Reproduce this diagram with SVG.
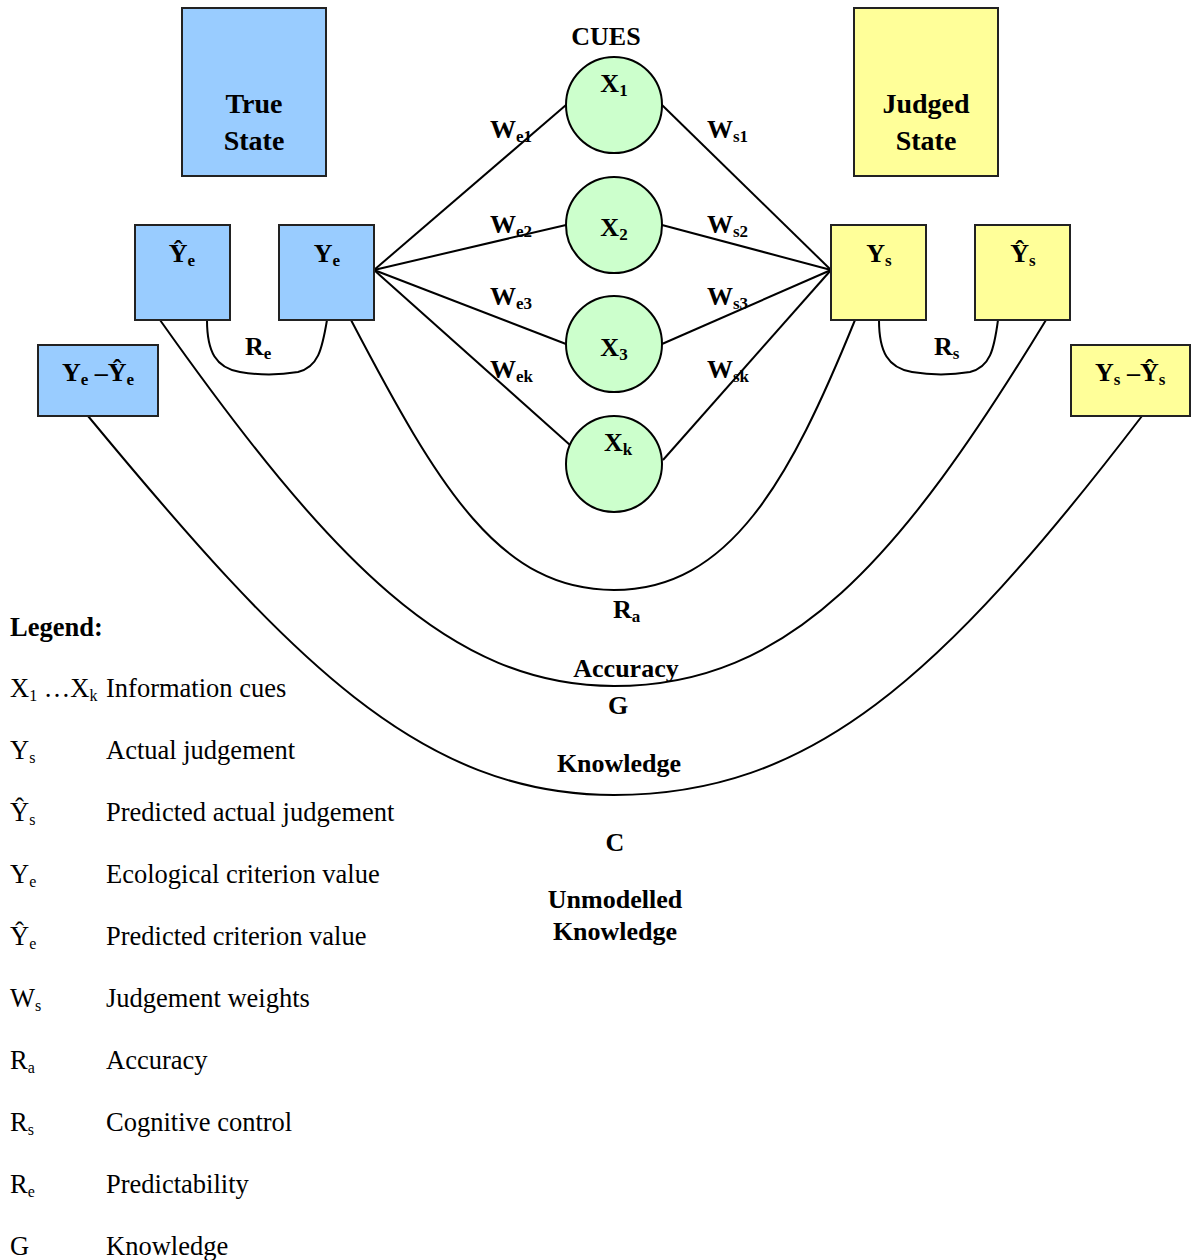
<svg xmlns="http://www.w3.org/2000/svg" width="1197" height="1260" viewBox="0 0 1197 1260">
  <style>
    text { font-family: "Liberation Serif", "Times New Roman", serif; fill: #000; }
    .b { font-weight: bold; font-size: 26px; }
    .big { font-weight: bold; font-size: 28px; }
    .lg { font-size: 26.5px; }
    .sub { font-size: 17px; }
    .lsub { font-size: 16px; }
    .blue { fill: #99CCFF; stroke: #222; stroke-width: 2; }
    .yel { fill: #FFFF99; stroke: #222; stroke-width: 2; }
    .cue { fill: #CCFFCC; stroke: #000; stroke-width: 2; }
    .ln { fill: none; stroke: #000; stroke-width: 2; }
  </style>

  <rect width="1197" height="1260" fill="#fff"/>

  <!-- connectors -->
  <g id="connectors">
    <!-- ecological weights: Ye to cues -->
    <line class="ln" x1="374" y1="270" x2="566" y2="105"/>
    <line class="ln" x1="374" y1="270" x2="566" y2="225"/>
    <line class="ln" x1="374" y1="270" x2="566" y2="344"/>
    <line class="ln" x1="374" y1="270" x2="570" y2="445"/>
    <!-- judgement weights: cues to Ys -->
    <line class="ln" x1="662" y1="105" x2="831" y2="270"/>
    <line class="ln" x1="662" y1="225" x2="831" y2="270"/>
    <line class="ln" x1="662" y1="344" x2="831" y2="270"/>
    <line class="ln" x1="663" y1="460" x2="831" y2="270"/>
    <!-- Re -->
    <path class="ln" d="M207,320 C207,352 216,368 240,372 C258,375 280,375 298,372 C318,367 322,350 327,320"/>
    <!-- Rs -->
    <path class="ln" d="M879,320 C879,352 888,368 912,372 C930,375 952,375 970,372 C990,367 994,350 998,320"/>
    <!-- Ra -->
    <path class="ln" d="M351,320 C440,490 500,590 614,590 C730,590 790,480 855,320"/>
    <!-- G -->
    <path class="ln" d="M160,320 C330,560 450,686 614,686 C790,686 900,560 1046,320"/>
    <!-- C -->
    <path class="ln" d="M88,416 C290,660 420,795 614,795 C810,795 940,680 1142,416"/>
  </g>

  <!-- true state -->
  <g id="true-state">
    <rect class="blue" x="182" y="8" width="144" height="168"/>
    <text class="big" x="254" y="113" text-anchor="middle">True</text>
    <text class="big" x="254" y="150" text-anchor="middle">State</text>
  </g>

  <!-- judged state -->
  <g id="judged-state">
    <rect class="yel" x="854" y="8" width="144" height="168"/>
    <text class="big" x="926" y="113" text-anchor="middle">Judged</text>
    <text class="big" x="926" y="150" text-anchor="middle">State</text>
  </g>

  <g id="ye-hat">
    <rect class="blue" x="135" y="225" width="95" height="95"/>
    <text class="b" x="182" y="262" text-anchor="middle">Ŷ<tspan class="sub" dy="4">e</tspan></text>
  </g>

  <g id="ye">
    <rect class="blue" x="279" y="225" width="95" height="95"/>
    <text class="b" x="327" y="262" text-anchor="middle">Y<tspan class="sub" dy="4">e</tspan></text>
  </g>

  <g id="ye-residual">
    <rect class="blue" x="38" y="345" width="120" height="71"/>
    <text class="b" x="62" y="381">Y<tspan class="sub" dy="4">e</tspan><tspan dy="-4"> –Ŷ</tspan><tspan class="sub" dy="4">e</tspan></text>
  </g>

  <g id="ys">
    <rect class="yel" x="831" y="225" width="95" height="95"/>
    <text class="b" x="879" y="262" text-anchor="middle">Y<tspan class="sub" dy="4">s</tspan></text>
  </g>

  <g id="ys-hat">
    <rect class="yel" x="975" y="225" width="95" height="95"/>
    <text class="b" x="1023" y="262" text-anchor="middle">Ŷ<tspan class="sub" dy="4">s</tspan></text>
  </g>

  <g id="ys-residual">
    <rect class="yel" x="1071" y="345" width="119" height="71"/>
    <text class="b" x="1095" y="381">Y<tspan class="sub" dy="4">s</tspan><tspan dy="-4"> –Ŷ</tspan><tspan class="sub" dy="4">s</tspan></text>
  </g>

  <!-- cues -->
  <text class="b" x="606" y="45" text-anchor="middle">CUES</text>
  <g id="cue-1">
    <circle class="cue" cx="614" cy="105" r="48"/>
    <text class="b" x="614" y="92" text-anchor="middle">X<tspan class="sub" dy="4">1</tspan></text>
  </g>
  <g id="cue-2">
    <circle class="cue" cx="614" cy="225" r="48"/>
    <text class="b" x="614" y="236" text-anchor="middle">X<tspan class="sub" dy="4">2</tspan></text>
  </g>
  <g id="cue-3">
    <circle class="cue" cx="614" cy="344" r="48"/>
    <text class="b" x="614" y="356" text-anchor="middle">X<tspan class="sub" dy="4">3</tspan></text>
  </g>
  <g id="cue-k">
    <circle class="cue" cx="614" cy="464" r="48"/>
    <text class="b" x="618" y="451" text-anchor="middle">X<tspan class="sub" dy="4">k</tspan></text>
  </g>

  <!-- weight labels -->
  <g id="weight-labels">
    <text class="b" x="490" y="138">W<tspan class="sub" dy="4">e1</tspan></text>
    <text class="b" x="490" y="233">W<tspan class="sub" dy="4">e2</tspan></text>
    <text class="b" x="490" y="305">W<tspan class="sub" dy="4">e3</tspan></text>
    <text class="b" x="490" y="378">W<tspan class="sub" dy="4">ek</tspan></text>
    <text class="b" x="707" y="138">W<tspan class="sub" dy="4">s1</tspan></text>
    <text class="b" x="707" y="233">W<tspan class="sub" dy="4">s2</tspan></text>
    <text class="b" x="707" y="305">W<tspan class="sub" dy="4">s3</tspan></text>
    <text class="b" x="707" y="378">W<tspan class="sub" dy="4">sk</tspan></text>
  </g>

  <!-- relation labels -->
  <g id="relation-labels">
    <text class="b" x="245" y="355">R<tspan class="sub" dy="4">e</tspan></text>
    <text class="b" x="934" y="355">R<tspan class="sub" dy="4">s</tspan></text>
    <text class="b" x="613" y="618">R<tspan class="sub" dy="4">a</tspan></text>
    <text class="b" x="626" y="677" text-anchor="middle">Accuracy</text>
    <text class="b" x="618" y="714" text-anchor="middle">G</text>
    <text class="b" x="619" y="772" text-anchor="middle">Knowledge</text>
    <text class="b" x="615" y="851" text-anchor="middle">C</text>
    <text class="b" x="615" y="908" text-anchor="middle">Unmodelled</text>
    <text class="b" x="615" y="940" text-anchor="middle">Knowledge</text>
  </g>

  <!-- legend -->
  <g id="legend">
    <text class="lg" x="10" y="636" font-weight="bold">Legend:</text>
    <text class="lg" x="10" y="697">X<tspan class="lsub" dy="4">1</tspan><tspan dy="-4"> …X</tspan><tspan class="lsub" dy="4">k</tspan></text>
    <text class="lg" x="106" y="697">Information cues</text>
    <text class="lg" x="10" y="759">Y<tspan class="lsub" dy="4">s</tspan></text>
    <text class="lg" x="106" y="759">Actual judgement</text>
    <text class="lg" x="10" y="821">Ŷ<tspan class="lsub" dy="4">s</tspan></text>
    <text class="lg" x="106" y="821">Predicted actual judgement</text>
    <text class="lg" x="10" y="883">Y<tspan class="lsub" dy="4">e</tspan></text>
    <text class="lg" x="106" y="883">Ecological criterion value</text>
    <text class="lg" x="10" y="945">Ŷ<tspan class="lsub" dy="4">e</tspan></text>
    <text class="lg" x="106" y="945">Predicted criterion value</text>
    <text class="lg" x="10" y="1007">W<tspan class="lsub" dy="4">s</tspan></text>
    <text class="lg" x="106" y="1007">Judgement weights</text>
    <text class="lg" x="10" y="1069">R<tspan class="lsub" dy="4">a</tspan></text>
    <text class="lg" x="106" y="1069">Accuracy</text>
    <text class="lg" x="10" y="1131">R<tspan class="lsub" dy="4">s</tspan></text>
    <text class="lg" x="106" y="1131">Cognitive control</text>
    <text class="lg" x="10" y="1193">R<tspan class="lsub" dy="4">e</tspan></text>
    <text class="lg" x="106" y="1193">Predictability</text>
    <text class="lg" x="10" y="1255">G</text>
    <text class="lg" x="106" y="1255">Knowledge</text>
  </g>
</svg>
